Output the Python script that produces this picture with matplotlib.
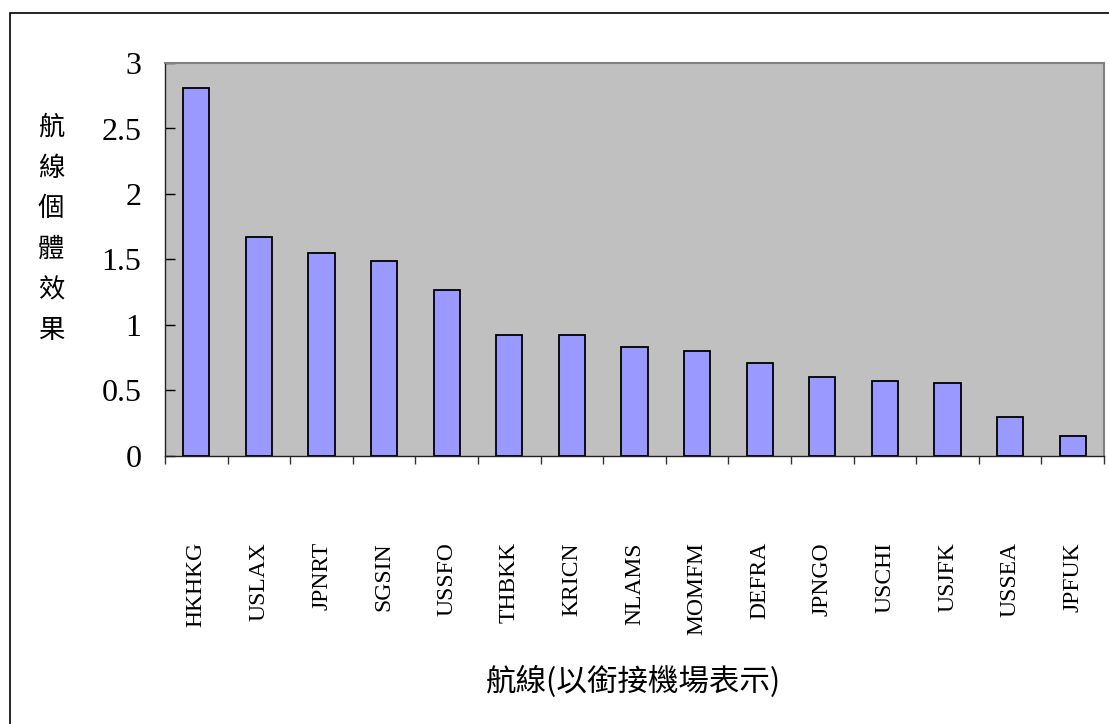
import matplotlib
matplotlib.use("Agg")
import matplotlib.pyplot as plt
import numpy as np
from matplotlib.patches import Rectangle


routes = ['HKHKG', 'USLAX', 'JPNRT', 'SGSIN', 'USSFO', 'THBKK', 'KRICN', 'NLAMS',
          'MOMFM', 'DEFRA', 'JPNGO', 'USCHI', 'USJFK', 'USSEA', 'JPFUK']
effects = [2.81, 1.67, 1.55, 1.49, 1.27, 0.92, 0.92, 0.83,
           0.80, 0.71, 0.60, 0.57, 0.56, 0.30, 0.155]
yticks = [0, 0.5, 1, 1.5, 2, 2.5, 3]
ytick_labels = ['0', '0.5', '1', '1.5', '2', '2.5', '3']

ylabel = '航線個體效果'
xlabel = '航線(以銜接機場表示)'

cjk = ['Noto Sans CJK TC', 'DejaVu Sans']
serif = 'Liberation Serif'

fig = plt.figure(figsize=(11.09, 7.24), dpi=100)
W, H = 1109, 724
ax = fig.add_axes([165 / W, 1 - 456 / H, (1104 - 165) / W, (456 - 63) / H])
ax.set_facecolor('#C0C0C0')

x = np.arange(len(routes))
ax.bar(x, effects, width=0.42, color='#9999FF', edgecolor='black', linewidth=1.3, zorder=3)

ax.set_xlim(-0.5, len(routes) - 0.5)
ax.set_ylim(0, 3)

# y axis
ax.set_yticks(yticks)
ax.set_yticklabels(ytick_labels, fontfamily=serif, fontsize=23)
ax.tick_params(axis='y', direction='in', length=7, width=1, pad=17, colors='black')

# x axis: labels at centers, marks at the category borders
ax.set_xticks(x)
ax.set_xticklabels(routes, rotation=90, fontfamily=serif, fontsize=17, va='top', ha='center')
ax.tick_params(axis='x', which='major', length=0, pad=62)
ax.set_xticks(np.arange(-0.5, len(routes), 1), minor=True)
ax.tick_params(axis='x', which='minor', direction='out', length=6, width=1, color='#333333')

for s in ['top', 'right']:
    ax.spines[s].set_color('#808080')
    ax.spines[s].set_linewidth(1.5)
for s in ['left', 'bottom']:
    ax.spines[s].set_color('#222222')
    ax.spines[s].set_linewidth(1)

# stacked vertical y label
fig.text(51 / W, 1 - 229 / H, '\n'.join(ylabel), family=cjk, fontsize=19,
         ha='center', va='center', linespacing=1.65)

fig.text(634 / W, 1 - 682 / H, xlabel, family=cjk, fontsize=22, ha='center', va='center')

# outer chart border (only left and top edges fall inside the picture)
fig.patches.append(Rectangle((10 / W, -0.1), 1.2, 1.1 - 13 / H, transform=fig.transFigure,
                             fill=False, edgecolor='black', linewidth=1.2))

fig.savefig('out.png', dpi=100)
